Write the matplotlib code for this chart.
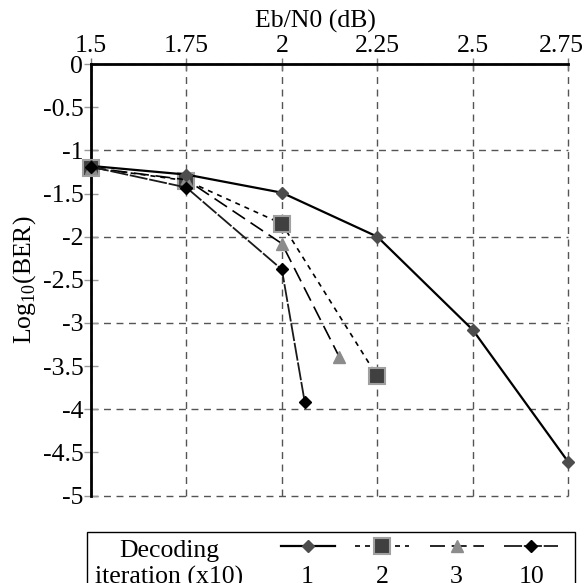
import matplotlib
matplotlib.use("Agg")
import matplotlib.pyplot as plt
from matplotlib.ticker import MultipleLocator, FuncFormatter
from matplotlib.offsetbox import VPacker
from matplotlib.patches import Rectangle
import matplotlib.transforms as mtrans

plt.rcParams['font.family'] = ['Liberation Serif', 'DejaVu Serif']
plt.rcParams['axes.unicode_minus'] = False

# data
x_1 = [1.5, 1.75, 2.0, 2.25, 2.5, 2.75]
y_1 = [-1.18, -1.28, -1.49, -2.0, -3.08, -4.61]
x_2 = [1.5, 1.75, 2.0, 2.25]
y_2 = [-1.2, -1.35, -1.85, -3.62]
x_3 = [1.5, 1.75, 2.0, 2.15]
y_3 = [-1.2, -1.34, -2.08, -3.39]
x_10 = [1.5, 1.75, 2.0, 2.06]
y_10 = [-1.19, -1.43, -2.38, -3.92]
labels = ['1', '2', '3', '10']
xticks = [1.5, 1.75, 2.0, 2.25, 2.5, 2.75]
xticklabels = ['1.5', '1.75', '2', '2.25', '2.5', '2.75']

FS = 18.5

fig = plt.figure(figsize=(5.87, 5.83), dpi=100)
ax = fig.add_axes([0.155, 0.150, 0.813, 0.740])

grid_kw = dict(color='#555555', lw=1.0, linestyle=(0, (5, 4)))

l1, = ax.plot(x_1, y_1, color='black', lw=1.6, marker='D', ms=6,
              mfc='#4d4d4d', mec='#4d4d4d', clip_on=False, zorder=5)
l2, = ax.plot(x_2, y_2, color='black', lw=1.2, linestyle=(0, (3, 3)),
              marker='s', ms=11, mfc='#404040', mec='#a0a0a0', mew=1.5,
              clip_on=False, zorder=4)
l3, = ax.plot(x_3, y_3, color='black', lw=1.2, linestyle=(0, (9, 4)),
              marker='^', ms=9, mfc='#8c8c8c', mec='#8c8c8c',
              clip_on=False, zorder=4)
l10, = ax.plot(x_10, y_10, color='#1a1a1a', lw=1.3, linestyle=(0, (10, 1)),
               marker='D', ms=6.5, mfc='black', mec='black',
               clip_on=False, zorder=6)

ax.set_xlim(1.5, 2.75)
ax.set_ylim(-5, 0)
ax.xaxis.tick_top()
ax.xaxis.set_label_position('top')
ax.set_xticks(xticks)
ax.set_xticklabels(xticklabels)
ax.yaxis.set_major_locator(MultipleLocator(1))
ax.yaxis.set_minor_locator(MultipleLocator(0.5))
fmt = FuncFormatter(lambda v, p: '%g' % v)
ax.yaxis.set_major_formatter(fmt)
ax.yaxis.set_minor_formatter(fmt)

ax.grid(True, which='major', **grid_kw)
for gl in ax.get_ygridlines() + ax.get_xgridlines():
    gl.set_clip_on(False)
ax.tick_params(axis='x', which='major', direction='inout', length=8,
               color='#777777', width=1, labelsize=FS, pad=1)
ax.tick_params(axis='y', which='both', direction='inout', length=10,
               color='#999999', width=1, labelsize=FS, pad=0.5)

# last x label sits a little inside the figure edge
last = ax.get_xticklabels()[-1]
last.set_transform(last.get_transform() + mtrans.Affine2D().translate(-7, 0))

for s in ['right', 'bottom']:
    ax.spines[s].set_visible(False)
for s in ['left', 'top']:
    ax.spines[s].set_linewidth(2)
    ax.spines[s].set_color('black')

ax.set_xlabel('Eb/N0 (dB)', fontsize=FS)
ax.xaxis.set_label_coords(0.47, 1.085)
ax.set_ylabel('Log$_{\\mathregular{10}}$(BER)', fontsize=FS, labelpad=3)

# legend: handle above label, framed box across the bottom
leg = ax.legend([l1, l2, l3, l10], labels, ncol=4, frameon=False,
                loc='upper center', bbox_to_anchor=(0.688, -0.095),
                handlelength=2.1, columnspacing=0.8, fontsize=FS,
                handletextpad=0.0, borderpad=0, borderaxespad=0, numpoints=1)
for col in leg._legend_handle_box.get_children():
    for item in col.get_children():
        item.__class__ = VPacker
        item.align = 'center'
        item.sep = 8

fig.add_artist(Rectangle((0.148, -0.01), 0.831, 0.0975, transform=fig.transFigure,
                         fill=False, edgecolor='black', lw=1))
fig.text(0.288, 0.032, 'Decoding\niteration (x10)', ha='center', va='center',
         fontsize=FS, linespacing=1.2)

fig.savefig('out.png', dpi=100)
